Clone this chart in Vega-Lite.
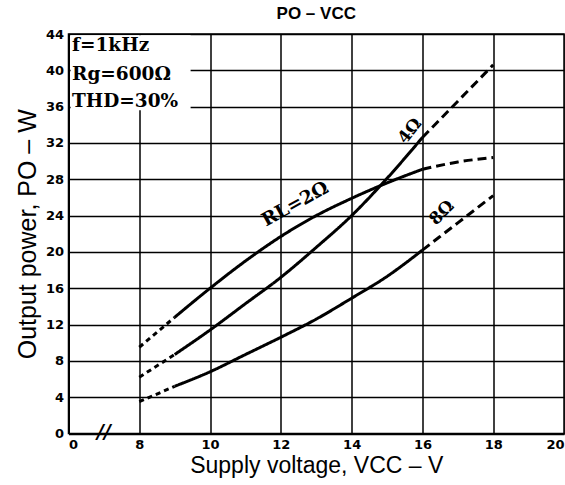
{
  "$schema": "https://vega.github.io/schema/vega-lite/v6.json",
  "autosize": {"type": "none"},
  "width": 495.5,
  "height": 399.5,
  "padding": {"left": 68.5, "top": 34, "right": 1, "bottom": 51.5},
  "background": "white",
  "title": {"text": "PO – VCC", "font": "Liberation Sans", "fontSize": 17, "fontWeight": "bold", "color": "black", "anchor": "middle", "offset": 5},
  "config": {
    "view": {"stroke": "black", "strokeWidth": 1.5},
    "axis": {
      "grid": true, "gridColor": "black", "gridOpacity": 1, "gridWidth": 1.5,
      "domainColor": "black", "domainWidth": 2, "ticks": false,
      "labelFont": "DejaVu Sans", "labelFontWeight": "bold", "labelFontSize": 13, "labelColor": "black",
      "titleFont": "Liberation Sans", "titleFontWeight": "normal", "titleFontSize": 23, "titleColor": "black"
    }
  },
  "datasets": {
    "curves": [
      {"RL": "2Ω", "part": "low", "V": 8, "P": 9.5},
      {"RL": "2Ω", "part": "low", "V": 9, "P": 12.8},
      {"RL": "2Ω", "part": "mid", "V": 9, "P": 12.8},
      {"RL": "2Ω", "part": "mid", "V": 10, "P": 16.0},
      {"RL": "2Ω", "part": "mid", "V": 11, "P": 19.0},
      {"RL": "2Ω", "part": "mid", "V": 12, "P": 21.7},
      {"RL": "2Ω", "part": "mid", "V": 13, "P": 24.0},
      {"RL": "2Ω", "part": "mid", "V": 14, "P": 25.9},
      {"RL": "2Ω", "part": "mid", "V": 15, "P": 27.6},
      {"RL": "2Ω", "part": "mid", "V": 16, "P": 29.1},
      {"RL": "2Ω", "part": "high", "V": 16, "P": 29.1},
      {"RL": "2Ω", "part": "high", "V": 17, "P": 29.9},
      {"RL": "2Ω", "part": "high", "V": 18, "P": 30.4},
      {"RL": "4Ω", "part": "low", "V": 8, "P": 6.2},
      {"RL": "4Ω", "part": "low", "V": 9, "P": 8.7},
      {"RL": "4Ω", "part": "mid", "V": 9, "P": 8.7},
      {"RL": "4Ω", "part": "mid", "V": 10, "P": 11.4},
      {"RL": "4Ω", "part": "mid", "V": 11, "P": 14.3},
      {"RL": "4Ω", "part": "mid", "V": 12, "P": 17.2},
      {"RL": "4Ω", "part": "mid", "V": 13, "P": 20.5},
      {"RL": "4Ω", "part": "mid", "V": 14, "P": 24.0},
      {"RL": "4Ω", "part": "mid", "V": 15, "P": 28.1},
      {"RL": "4Ω", "part": "mid", "V": 16, "P": 32.6},
      {"RL": "4Ω", "part": "high", "V": 16, "P": 32.6},
      {"RL": "4Ω", "part": "high", "V": 17, "P": 36.6},
      {"RL": "4Ω", "part": "high", "V": 18, "P": 40.6},
      {"RL": "8Ω", "part": "low", "V": 8, "P": 3.5},
      {"RL": "8Ω", "part": "low", "V": 9, "P": 5.2},
      {"RL": "8Ω", "part": "mid", "V": 9, "P": 5.2},
      {"RL": "8Ω", "part": "mid", "V": 10, "P": 6.8},
      {"RL": "8Ω", "part": "mid", "V": 11, "P": 8.7},
      {"RL": "8Ω", "part": "mid", "V": 12, "P": 10.6},
      {"RL": "8Ω", "part": "mid", "V": 13, "P": 12.6},
      {"RL": "8Ω", "part": "mid", "V": 14, "P": 14.9},
      {"RL": "8Ω", "part": "mid", "V": 15, "P": 17.3},
      {"RL": "8Ω", "part": "mid", "V": 16, "P": 20.2},
      {"RL": "8Ω", "part": "high", "V": 16, "P": 20.2},
      {"RL": "8Ω", "part": "high", "V": 17, "P": 23.2},
      {"RL": "8Ω", "part": "high", "V": 18, "P": 26.2}
    ],
    "conditions": [
      {"t": "f=1kHz", "P": 42.8},
      {"t": "Rg=600Ω", "P": 39.6},
      {"t": "THD=30%", "P": 36.6}
    ],
    "one": [{}]
  },
  "encoding": {
    "x": {"type": "quantitative", "scale": {"domain": [6, 20], "nice": false, "zero": false},
      "axis": {"values": [6, 8, 10, 12, 14, 16, 18, 20], "labelExpr": "datum.value == 6 ? '0' : datum.label", "labelPadding": 5, "title": "Supply voltage, VCC – V", "titlePadding": 3}},
    "y": {"type": "quantitative", "scale": {"domain": [0, 44], "nice": false, "zero": true},
      "axis": {"values": [0, 4, 8, 12, 16, 20, 24, 28, 32, 36, 40, 44], "labelPadding": 5, "title": "Output power, PO – W", "titlePadding": 5, "titleFontSize": 25}}
  },
  "layer": [
    {
      "data": {"name": "one"},
      "mark": {"type": "rect", "fill": "white"},
      "encoding": {
        "x": {"datum": 6.06}, "x2": {"datum": 9.45},
        "y": {"datum": 35.6}, "y2": {"datum": 43.85}
      }
    },
    {
      "data": {"name": "curves"},
      "mark": {"type": "line", "color": "black", "strokeWidth": 3, "interpolate": "monotone"},
      "encoding": {
        "x": {"field": "V"},
        "y": {"field": "P"},
        "detail": {"field": "RL", "type": "nominal"},
        "strokeDash": {"field": "part", "type": "nominal", "scale": {"domain": ["low", "mid", "high"], "range": [[5, 4], [1, 0], [9, 5]]}, "legend": null}
      }
    },
    {
      "data": {"name": "conditions"},
      "mark": {"type": "text", "font": "DejaVu Serif", "fontWeight": "bold", "fontSize": 18.5, "align": "left", "baseline": "middle", "color": "black"},
      "encoding": {
        "x": {"datum": 6.1},
        "y": {"field": "P"},
        "text": {"field": "t"}
      }
    },
    {
      "data": {"name": "one"},
      "mark": {"type": "text", "font": "DejaVu Serif", "fontWeight": "bold", "fontSize": 18.5, "angle": -29, "align": "center", "baseline": "middle", "color": "black"},
      "encoding": {"x": {"datum": 12.4}, "y": {"datum": 25.3}, "text": {"value": "RL=2Ω"}}
    },
    {
      "data": {"name": "one"},
      "mark": {"type": "text", "font": "DejaVu Serif", "fontWeight": "bold", "fontSize": 17, "angle": -52, "align": "center", "baseline": "middle", "color": "black"},
      "encoding": {"x": {"datum": 15.65}, "y": {"datum": 33.3}, "text": {"value": "4Ω"}}
    },
    {
      "data": {"name": "one"},
      "mark": {"type": "text", "font": "DejaVu Serif", "fontWeight": "bold", "fontSize": 17, "angle": -45, "align": "center", "baseline": "middle", "color": "black"},
      "encoding": {"x": {"datum": 16.55}, "y": {"datum": 24.3}, "text": {"value": "8Ω"}}
    },
    {
      "data": {"name": "one"},
      "mark": {"type": "text", "font": "DejaVu Sans", "fontWeight": "bold", "fontStyle": "italic", "fontSize": 19, "align": "center", "baseline": "middle", "color": "black"},
      "encoding": {"x": {"datum": 7.0}, "y": {"datum": 0.2}, "text": {"value": "//"}}
    }
  ]
}
